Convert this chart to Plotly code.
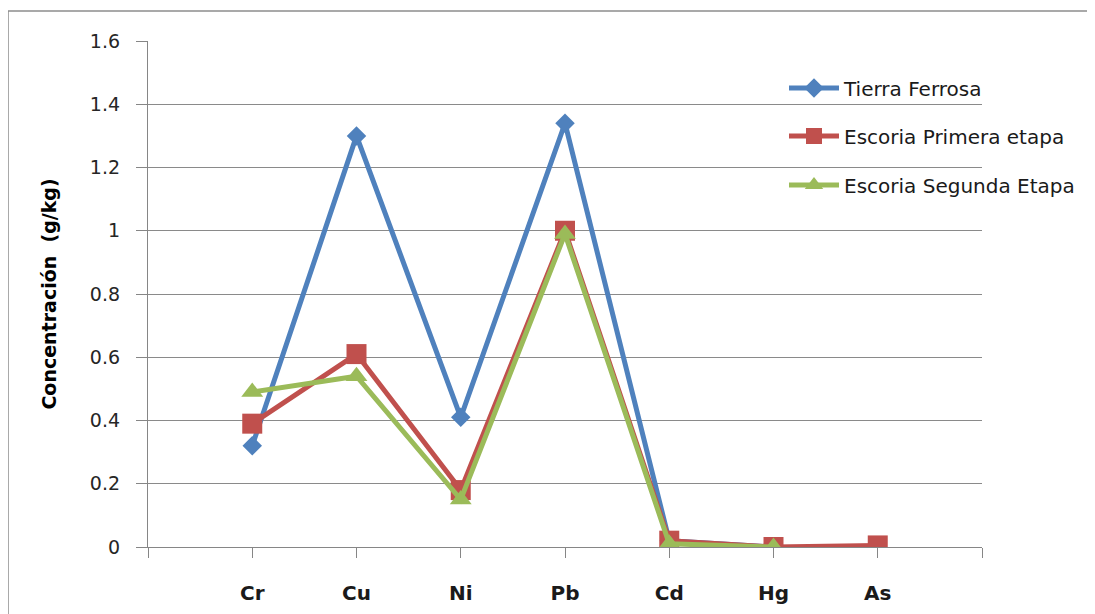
import plotly.graph_objects as go

categories = ["Cr", "Cu", "Ni", "Pb", "Cd", "Hg", "As"]
positions = [1, 2, 3, 4, 5, 6, 7]
tierra_ferrosa = [0.32, 1.30, 0.41, 1.34, 0.02, 0.0, None]
escoria_primera = [0.39, 0.61, 0.18, 1.00, 0.02, 0.0, 0.005]
escoria_segunda = [0.49, 0.54, 0.15, 0.99, 0.01, 0.0, None]

series = [
    ("Tierra Ferrosa", tierra_ferrosa, "#4F81BD", "diamond", 15, "legend"),
    ("Escoria Primera etapa", escoria_primera, "#C0504D", "square", 20, "legend2"),
    ("Escoria Segunda Etapa", escoria_segunda, "#9BBB59", "triangle-up", 19, "legend3"),
]

fig = go.Figure()
for name, vals, color, sym, size, leg in series:
    fig.add_trace(go.Scatter(
        x=positions, y=vals, name=name, mode="lines+markers",
        line=dict(color=color, width=5),
        marker=dict(symbol=sym, size=size, color=color),
        legend=leg, connectgaps=False,
    ))

# page has an 8px body margin, so figure coords = screen coords - 8
OFF = 8
W, H = 1095, 614
L = 148 - OFF
T = 41 - OFF
R = W - (982 - OFF)
B = H - (547 - OFF)
PH = H - T - B
PW = W - L - R

def py(y_screen):
    return ((547 - OFF) - (y_screen - OFF)) / PH

def px(x_screen):
    return ((x_screen - OFF) - L) / PW

leg_common = dict(x=px(784), xanchor="left", yanchor="middle", bgcolor="rgba(0,0,0,0)",
                  font=dict(family="DejaVu Sans", size=20, color="#1a1a1a"), itemwidth=50)
fig.update_layout(
    width=W, height=H,
    margin=dict(l=L, r=R, t=T, b=B),
    paper_bgcolor="white", plot_bgcolor="white",
    showlegend=True,
    legend=dict(y=py(88), **leg_common),
    legend2=dict(y=py(136), **leg_common),
    legend3=dict(y=py(185), **leg_common),
)

fig.update_xaxes(
    range=[0, 8], tickvals=[0] + positions + [8], ticktext=[""] + categories + [""],
    showgrid=False, showline=True, linecolor="#868686", linewidth=1.3,
    ticks="outside", ticklen=10, tickcolor="#868686", tickwidth=1.3,
    tickfont=dict(family="DejaVu Sans", size=20, color="#1a1a1a", weight="bold"),
    ticklabelstandoff=18, zeroline=False,
)
fig.update_yaxes(
    range=[0, 1.6], dtick=0.2, tick0=0,
    showgrid=True, gridcolor="#8a8a8a", gridwidth=1.3,
    showline=True, linecolor="#868686", linewidth=1.3,
    ticks="outside", ticklen=11, tickcolor="#868686", tickwidth=1.3,
    tickfont=dict(family="DejaVu Sans", size=19, color="#262626"),
    ticklabelstandoff=12, zeroline=False,
    title=dict(text="Concentración  (g/kg)", standoff=28,
               font=dict(family="DejaVu Sans", size=19, color="#000000", weight="bold")),
)

# outer chart border (top and left)
x_left = px(8)
y_top = py(11)
fig.add_shape(type="line", xref="paper", yref="paper", x0=x_left, x1=px(1110),
              y0=y_top, y1=y_top, line=dict(color="#8c8c8c", width=1.5))
fig.add_shape(type="line", xref="paper", yref="paper", x0=x_left, x1=x_left,
              y0=y_top, y1=py(640), line=dict(color="#8c8c8c", width=1.5))

fig.write_html("out.html")
